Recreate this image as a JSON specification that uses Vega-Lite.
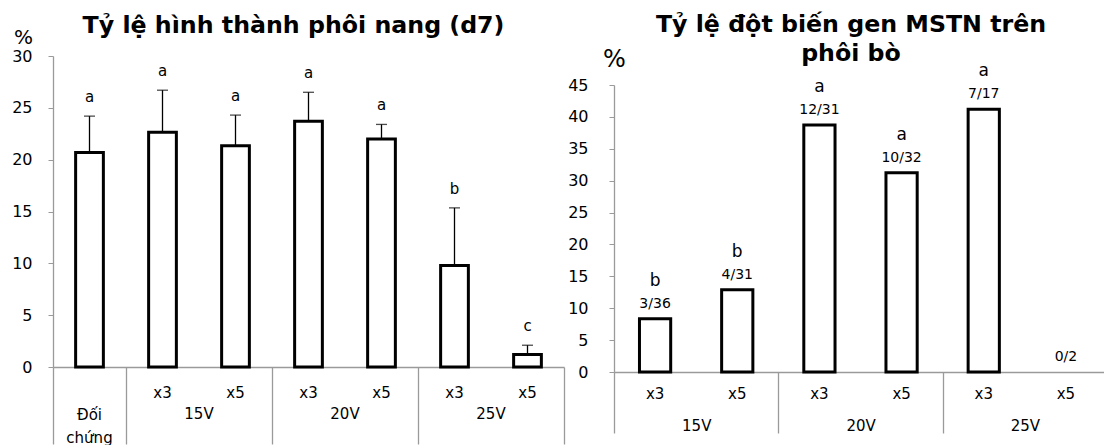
{
  "$schema": "https://vega.github.io/schema/vega-lite/v6.json",
  "padding": {"left": 11, "top": 13, "right": 0, "bottom": 0},
  "background": "white",
  "config": {
    "view": {"stroke": null},
    "font": "DejaVu Sans",
    "axis": {"grid": false, "domainColor": "#9a9a9a", "tickColor": "#9a9a9a", "domainWidth": 1.3, "labelColor": "black", "labelFont": "DejaVu Sans", "titleColor": "black", "titleFont": "DejaVu Sans"},
    "axisY": {"labelFontSize": 16, "tickSize": 5, "labelOverlap": false, "titleAngle": 0, "titleAlign": "center", "titleBaseline": "middle", "titleFontWeight": "normal"},
    "title": {"font": "DejaVu Sans", "fontSize": 23.7, "fontWeight": "bold", "color": "black", "lineHeight": 29},
    "concat": {"spacing": 2}
  },
  "hconcat": [
    {
      "width": 511,
      "height": 311,
      "title": {"text": "Tỷ lệ hình thành phôi nang (d7)", "offset": -11, "dx": -15},
      "data": {"values": [
        {"id": "Đối chứng", "val": 20.7, "err": 24.2, "sig": "a"},
        {"id": "15V x3", "val": 22.65, "err": 26.7, "sig": "a"},
        {"id": "15V x5", "val": 21.35, "err": 24.3, "sig": "a"},
        {"id": "20V x3", "val": 23.7, "err": 26.5, "sig": "a"},
        {"id": "20V x5", "val": 22.0, "err": 23.4, "sig": "a"},
        {"id": "25V x3", "val": 9.8, "err": 15.35, "sig": "b"},
        {"id": "25V x5", "val": 1.2, "err": 2.1, "sig": "c"}
      ]},
      "layer": [
        {
          "mark": {"type": "bar", "fill": "white", "stroke": "black", "strokeWidth": 3},
          "encoding": {
            "x": {"field": "id", "type": "nominal", "sort": null,
              "scale": {"paddingInner": 0.62, "paddingOuter": 0.31},
              "axis": {"orient": "bottom", "title": null, "domain": true, "ticks": false, "tickSize": 0, "labelAngle": 0, "labelFontSize": 15, "labelPadding": 18, "labelBaseline": "top", "labelLineHeight": 22.5, "labelOverlap": false,
                "labelExpr": "datum.value == 'Đối chứng' ? [' ', 'Đối', 'chứng'] : substring(datum.value, 4)"}},
            "y": {"field": "val", "type": "quantitative", "scale": {"domain": [0, 30], "nice": false},
              "axis": {"values": [0, 5, 10, 15, 20, 25, 30], "title": "%", "titleX": -30, "titleY": -19, "titleFontSize": 20, "labelPadding": 16}}
          }
        },
        {
          "mark": {"type": "rule", "color": "black", "strokeWidth": 1.3},
          "encoding": {
            "x": {"field": "id", "type": "nominal", "sort": null,
              "scale": {"paddingInner": 0.62, "paddingOuter": 0.31},
              "axis": {"orient": "bottom", "title": null, "domain": false, "ticks": false, "tickSize": 0, "labelAngle": 0, "labelFontSize": 15, "labelPadding": 39.5, "labelBaseline": "top", "labelOverlap": false, "labelOffset": -36.5,
                "labelExpr": "indexof(datum.value, 'x5') >= 0 ? substring(datum.value, 0, 3) : ''"}},
            "y": {"field": "val", "type": "quantitative",
              "axis": {"values": [0, 5, 10, 15, 20, 25, 30], "title": "%", "titleX": -30, "titleY": -19, "titleFontSize": 20, "labelPadding": 16}},
            "y2": {"field": "err"}
          }
        },
        {
          "mark": {"type": "tick", "color": "black", "thickness": 1.3, "size": 11},
          "encoding": {
            "x": {"field": "id", "type": "nominal", "sort": null,
              "scale": {"paddingInner": 0.62, "paddingOuter": 0.31},
              "axis": {"orient": "bottom", "title": null, "domain": false, "labels": false, "ticks": true, "tickOffset": 36.5, "tickSize": 77, "tickWidth": 1.3, "tickColor": "#9a9a9a",
                "tickOpacity": {"condition": {"test": "datum.value == '25V x5'", "value": 1}, "value": 0}}},
            "y": {"field": "err", "type": "quantitative",
              "axis": {"values": [0, 5, 10, 15, 20, 25, 30], "title": "%", "titleX": -30, "titleY": -19, "titleFontSize": 20, "labelPadding": 16}}
          }
        },
        {
          "mark": {"type": "text", "fontSize": 15, "baseline": "middle", "dy": -19, "color": "black"},
          "encoding": {
            "x": {"field": "id", "type": "nominal", "sort": null,
              "scale": {"paddingInner": 0.62, "paddingOuter": 0.31},
              "axis": {"orient": "bottom", "title": null, "domain": false, "labels": false, "ticks": true, "tickOffset": -36.5, "tickSize": 77, "tickWidth": 1.3, "tickColor": "#9a9a9a",
                "tickOpacity": {"condition": {"test": "datum.value == 'Đối chứng' || datum.value == '15V x3' || datum.value == '20V x3' || datum.value == '25V x3'", "value": 1}, "value": 0}}},
            "y": {"field": "err", "type": "quantitative",
              "axis": {"values": [0, 5, 10, 15, 20, 25, 30], "title": "%", "titleX": -30, "titleY": -19, "titleFontSize": 20, "labelPadding": 16}},
            "text": {"field": "sig"}
          }
        }
      ],
      "resolve": {"scale": {"x": "independent"}, "axis": {"x": "independent"}}
    },
    {
      "width": 493,
      "height": 316,
      "title": {"text": ["Tỷ lệ đột biến gen MSTN trên", "phôi bò"], "offset": -19, "dx": -9.5},
      "data": {"values": [
        {"id": "15V x3", "val": 8.33, "frac": "3/36", "sig": "b"},
        {"id": "15V x5", "val": 12.9, "frac": "4/31", "sig": "b"},
        {"id": "20V x3", "val": 38.71, "frac": "12/31", "sig": "a"},
        {"id": "20V x5", "val": 31.25, "frac": "10/32", "sig": "a"},
        {"id": "25V x3", "val": 41.18, "frac": "7/17", "sig": "a"},
        {"id": "25V x5", "val": 0, "frac": "0/2", "sig": ""}
      ]},
      "layer": [
        {
          "mark": {"type": "bar", "fill": "white", "stroke": "black", "strokeWidth": 3},
          "encoding": {
            "x": {"field": "id", "type": "nominal", "sort": null,
              "scale": {"paddingInner": 0.62, "paddingOuter": 0.31},
              "axis": {"orient": "bottom", "title": null, "domain": true, "ticks": false, "tickSize": 0, "labelAngle": 0, "labelFontSize": 15, "labelPadding": 14.5, "labelBaseline": "top", "labelOverlap": false,
                "labelExpr": "substring(datum.value, 4)"}},
            "y": {"field": "val", "type": "quantitative", "scale": {"domain": [0, 45], "nice": false, "range": [316, 29]},
              "axis": {"values": [0, 5, 10, 15, 20, 25, 30, 35, 40, 45], "title": "%", "titleX": 0, "titleY": 3, "titleFontSize": 24, "labelPadding": 21}},
            "strokeOpacity": {"condition": {"test": "datum.val == 0", "value": 0}, "value": 1}
          }
        },
        {
          "mark": {"type": "text", "fontSize": 14, "baseline": "middle", "dy": -15, "color": "black"},
          "encoding": {
            "x": {"field": "id", "type": "nominal", "sort": null,
              "scale": {"paddingInner": 0.62, "paddingOuter": 0.31},
              "axis": {"orient": "bottom", "title": null, "domain": false, "ticks": false, "tickSize": 0, "labelAngle": 0, "labelFontSize": 15, "labelPadding": 46.5, "labelBaseline": "top", "labelOverlap": false, "labelOffset": -41,
                "labelExpr": "indexof(datum.value, 'x5') >= 0 ? substring(datum.value, 0, 3) : ''"}},
            "y": {"field": "val", "type": "quantitative",
              "axis": {"values": [0, 5, 10, 15, 20, 25, 30, 35, 40, 45], "title": "%", "titleX": 0, "titleY": 3, "titleFontSize": 24, "labelPadding": 21}},
            "text": {"field": "frac"}
          }
        },
        {
          "mark": {"type": "text", "fontSize": 17, "baseline": "middle", "dy": -38, "color": "black"},
          "encoding": {
            "x": {"field": "id", "type": "nominal", "sort": null,
              "scale": {"paddingInner": 0.62, "paddingOuter": 0.31},
              "axis": {"orient": "bottom", "title": null, "domain": false, "labels": false, "ticks": true, "tickOffset": -41.08, "tickSize": 61, "tickWidth": 1.3, "tickColor": "#9a9a9a",
                "tickOpacity": {"condition": {"test": "datum.value == '15V x3' || datum.value == '20V x3' || datum.value == '25V x3'", "value": 1}, "value": 0}}},
            "y": {"field": "val", "type": "quantitative",
              "axis": {"values": [0, 5, 10, 15, 20, 25, 30, 35, 40, 45], "title": "%", "titleX": 0, "titleY": 3, "titleFontSize": 24, "labelPadding": 21}},
            "text": {"field": "sig"}
          }
        }
      ],
      "resolve": {"scale": {"x": "independent"}, "axis": {"x": "independent"}}
    }
  ]
}
